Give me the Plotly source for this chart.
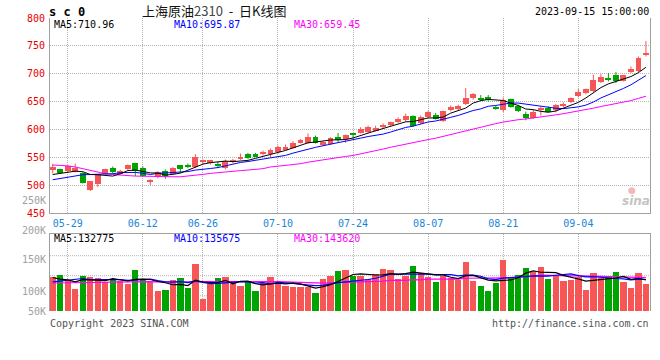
import plotly.graph_objects as go
import pandas as pd

# ---------------- data ----------------
holidays = ["2023-06-22", "2023-06-23"]
dates = [d.strftime("%m-%d") for d in pd.bdate_range("2023-05-25", "2023-09-15")
         if d.strftime("%Y-%m-%d") not in holidays]

tick_labels = ["05-29", "06-12", "06-26", "07-10", "07-24", "08-07", "08-21", "09-04"]
price_ticks = [800, 750, 700, 650, 600, 550, 500, 450]

opens = [526.8, 528.6, 525.0, 524.4, 521.4, 491.7, 502.4, 520.8, 531.6, 520.8,
         529.8, 539.3, 530.4, 506.5, 514.3, 526.2, 520.8, 535.7, 535.1, 532.7,
         542.3, 539.9, 538.1, 531.0, 541.1, 547.6, 557.1, 555.4, 555.4, 555.4,
         559.5, 564.3, 567.3, 576.8, 576.8, 586.9, 572.0, 575.0, 587.5, 583.3,
         591.1, 594.0, 595.8, 598.2, 604.8, 607.7, 614.3, 617.3, 625.0, 611.3,
         622.0, 626.8, 614.9, 635.7, 636.3, 646.4, 656.0, 656.6, 657.8, 641.1,
         634.5, 654.8, 641.7, 628.6, 620.8, 636.3, 638.7, 635.7, 643.5, 648.8,
         659.5, 664.9, 668.5, 685.1, 692.3, 698.2, 687.5, 702.4, 705.4, 733.9]
highs = [538.7, 529.8, 535.7, 539.3, 523.8, 507.7, 520.3, 529.8, 533.9, 528.0,
         537.5, 540.5, 533.9, 511.3, 525.6, 528.6, 532.7, 536.3, 539.3, 556.0,
         546.4, 545.8, 542.3, 546.4, 547.6, 557.1, 558.3, 558.3, 562.5, 566.1,
         571.4, 573.2, 579.2, 583.3, 592.9, 589.3, 579.2, 586.3, 594.0, 591.1,
         593.5, 604.2, 607.1, 607.1, 611.3, 614.3, 622.0, 628.6, 625.6, 625.0,
         633.9, 629.8, 633.9, 642.9, 644.7, 674.4, 665.5, 661.9, 661.9, 642.9,
         657.2, 655.4, 644.7, 632.2, 635.7, 641.7, 641.7, 645.9, 648.8, 657.8,
         672.6, 673.8, 698.2, 699.4, 701.2, 703.0, 698.2, 713.1, 731.0, 758.9]
lows = [521.4, 520.8, 522.6, 523.2, 503.6, 489.9, 497.0, 519.7, 521.4, 519.7,
        527.4, 516.7, 515.5, 500.6, 512.5, 511.9, 519.7, 522.6, 531.0, 531.0,
        538.1, 537.5, 531.0, 528.6, 539.9, 545.8, 547.6, 550.6, 553.6, 550.6,
        557.1, 563.1, 566.1, 575.0, 575.0, 575.0, 570.8, 573.2, 577.4, 576.2,
        584.5, 592.9, 594.0, 596.4, 602.4, 606.0, 611.9, 614.3, 604.8, 610.1,
        620.2, 617.9, 613.7, 632.7, 634.5, 644.1, 653.6, 651.2, 650.0, 635.7,
        631.6, 639.3, 631.6, 616.7, 619.0, 625.0, 631.0, 631.0, 640.5, 647.6,
        657.8, 663.1, 667.3, 683.3, 686.3, 683.3, 686.3, 701.2, 703.0, 731.0]
closes = [532.7, 522.0, 533.9, 530.4, 504.2, 507.1, 519.7, 528.6, 523.8, 525.0,
          535.7, 525.0, 517.3, 508.9, 524.4, 516.7, 531.6, 528.6, 534.5, 551.8,
          544.1, 544.7, 534.5, 542.9, 546.4, 551.8, 548.8, 552.4, 559.5, 563.7,
          569.0, 568.5, 575.6, 581.0, 587.5, 576.2, 577.4, 585.1, 582.1, 589.9,
          590.5, 601.8, 604.2, 603.6, 608.9, 613.1, 619.6, 624.4, 606.0, 623.2,
          631.6, 619.0, 632.7, 641.1, 642.9, 657.2, 664.3, 653.6, 652.4, 638.1,
          652.4, 640.5, 632.7, 620.8, 632.2, 637.5, 632.2, 644.1, 644.7, 656.0,
          666.7, 672.0, 688.1, 693.5, 689.3, 686.3, 697.0, 708.9, 729.2, 737.5]

# volume (thousands)
volumes = [116.8, 120.1, 108.3, 92.6, 118.1, 115.5, 114.2, 107.0, 111.6, 108.3,
           102.4, 129.9, 110.3, 107.0, 88.7, 90.6, 110.3, 114.2, 94.6, 141.7,
           73.0, 105.0, 114.2, 116.2, 107.0, 98.5, 105.7, 88.7, 105.0, 116.2,
           105.7, 99.1, 97.1, 97.1, 95.9, 84.8, 112.2, 118.2, 128.0, 129.9,
           118.8, 118.8, 112.3, 122.1, 131.9, 129.9, 112.3, 118.8, 137.8, 123.4,
           116.2, 106.4, 118.8, 114.9, 110.3, 145.6, 108.3, 98.5, 88.7, 104.4,
           148.3, 113.6, 120.1, 133.9, 125.4, 135.8, 112.3, 116.9, 108.3, 110.3,
           115.5, 90.7, 124.1, 113.6, 118.2, 126.0, 106.4, 95.3, 124.1, 102.4]

# moving-average values before a full window exists
ma5_head = [519.5, 521.5, 524.0, 525.5]
ma10_head = [510.1, 512.5, 514.9, 517.6, 519.1, 519.5, 520.0, 520.3, 520.9]
ma30_head = [536.5, 536.3, 535.0, 533.0, 530.0, 527.0, 523.0, 521.0, 519.5, 518.5,
             517.0, 516.7, 516.5, 516.0, 515.5, 515.5, 515.5, 515.5, 516.5, 518.0,
             519.7, 521.5, 523.0, 524.5, 525.6, 526.5, 527.5, 528.6, 530.0]
vma5_head = [115.5, 112.3, 111.0, 107.0]
vma10_head = [107.0, 108.3, 110.3, 111.6, 113.6, 111.6, 111.6, 110.3, 110.3]
vma30_head = [104.8, 105.0, 105.3, 105.6, 106.5, 107.0, 107.3, 107.5, 107.7, 107.8,
              107.8, 107.8, 107.7, 107.3, 107.0, 106.8, 106.6, 106.5, 106.6, 107.0,
              107.3, 107.5, 107.5, 107.4, 107.3, 107.3, 107.3, 107.4, 107.5]

vol_axis_labels = ["200K", "150K", "100K", "50K"]
vol_axis_label_y = [230, 259, 291, 311]   # pixel rows of the labels


def moving_avg(vals, n, head):
    out = []
    for i in range(len(vals)):
        if i >= n - 1:
            out.append(sum(vals[i - n + 1:i + 1]) / n)
        else:
            out.append(head[i])
    return out


ma5 = moving_avg(closes, 5, ma5_head)
ma10 = moving_avg(closes, 10, ma10_head)
ma30 = moving_avg(closes, 30, ma30_head)
vma5 = moving_avg(volumes, 5, vma5_head)
vma10 = moving_avg(volumes, 10, vma10_head)
vma30 = moving_avg(volumes, 30, vma30_head)

# ---------------- style ----------------
RED = "#f65656"
GREEN = "#00a400"
GRID = "#b4b4b4"
FRAME = "#a0a0a0"
MONO = "DejaVu Sans Mono"
W, H = 660, 360
ML, MR, MT, MB = 50, 10, 18, 49
PW, PH = W - ML - MR, H - MT - MB
PB = H - MB  # bottom pixel row of plotting area

up = [c >= o for o, c in zip(opens, closes)]
cols = [RED if u else GREEN for u in up]

fig = go.Figure()

# candle bodies (first, so the category order follows the dates)
fig.add_trace(go.Bar(x=dates, y=[max(abs(c - o), 1.8) for o, c in zip(opens, closes)],
                     base=[min(o, c) for o, c in zip(opens, closes)],
                     marker=dict(color=cols, line=dict(width=0)), width=0.78,
                     showlegend=False, xaxis="x", yaxis="y"))

# wicks
for flag, col in ((True, RED), (False, GREEN)):
    xs, ys = [], []
    for d, h, l, u in zip(dates, highs, lows, up):
        if u == flag:
            xs += [d, d, None]
            ys += [l, h, None]
    fig.add_trace(go.Scatter(x=xs, y=ys, mode="lines", line=dict(color=col, width=1),
                             hoverinfo="skip", showlegend=False, xaxis="x", yaxis="y"))

for vals, col in ((ma30, "#ff00ff"), (ma10, "#0000ff"), (ma5, "#000000")):
    fig.add_trace(go.Scatter(x=dates, y=vals, mode="lines", line=dict(color=col, width=1),
                             hoverinfo="skip", showlegend=False, xaxis="x", yaxis="y"))

# volume
fig.add_trace(go.Bar(x=dates, y=volumes, marker=dict(color=cols, line=dict(width=0)),
                     width=0.84, showlegend=False, xaxis="x2", yaxis="y2"))
for vals, col in ((vma30, "#ff00ff"), (vma10, "#0000ff"), (vma5, "#000000")):
    fig.add_trace(go.Scatter(x=dates, y=vals, mode="lines", line=dict(color=col, width=1.2),
                             hoverinfo="skip", showlegend=False, xaxis="x2", yaxis="y2"))

price_dom = [(PB - 213.3) / PH, 1.0]
vol_dom = [0.0, (PB - 234.3) / PH]
xr = [-0.36, len(dates) - 1 + 0.54]


def ann(text, x, y, xanchor, color, size, family=MONO):
    return dict(text=text, x=(x - ML) / PW, y=(PB - y) / PH, xref="paper", yref="paper",
                xanchor=xanchor, yanchor="middle", showarrow=False, borderpad=0,
                font=dict(family=family, size=size, color=color))


annotations = [
    ann("<b>s c 0</b>", 48, 11.5, "left", "#000000", 12),
    ann("上海原油<span style='color:#444'>2310</span>\u00a0\u00a0-\u00a0\u00a0日K线图",
        214, 10, "center", "#111111", 13, "Noto Sans CJK SC"),
    ann("2023-09-15 15:00:00", 650, 11.5, "right", "#000000", 10),
    ann("MA5:710.96", 53, 24.5, "left", "#000000", 10),
    ann("MA10:695.87", 173, 24.5, "left", "#0000ff", 10),
    ann("MA30:659.45", 293, 24.5, "left", "#ff00ff", 10),
    ann("MA5:132775", 53, 238.5, "left", "#000000", 10),
    ann("MA10:135675", 173, 238.5, "left", "#0000ff", 10),
    ann("MA30:143620", 293, 238.5, "left", "#ff00ff", 10),
    ann("Copyright 2023 SINA.COM", 49, 323.5, "left", "#555555", 10),
    ann("http://finance.sina.com.cn", 650, 323.5, "right", "#555555", 10),
    ann("250K", 47, 200.5, "right", "#a0a0a0", 10),
    ann("<b><i>sina</i></b>", 636, 201, "center", "#c4c4c4", 12, "DejaVu Sans"),
    ann("●", 632, 190, "center", "#f2b8b8", 9, "DejaVu Sans"),
]
for lab, yy in zip(vol_axis_labels, vol_axis_label_y):
    annotations.append(ann(lab, 47, yy, "right", "#a0a0a0", 10))

shapes = []
for frac in (0.721, 0.460, 0.199):
    shapes.append(dict(type="line", xref="x2 domain", yref="y2 domain", x0=0, x1=1,
                       y0=frac, y1=frac, line=dict(color=GRID, width=1, dash="1px,1px"),
                       layer="below"))

fig.update_layout(
    width=W, height=H, margin=dict(l=ML, r=MR, t=MT, b=MB, pad=0),
    paper_bgcolor="white", plot_bgcolor="white", showlegend=False,
    bargap=0, annotations=annotations, shapes=shapes,
    xaxis=dict(domain=[0, 1], anchor="y", type="category", range=xr,
               categoryorder="array", categoryarray=dates,
               tickvals=tick_labels, ticktext=tick_labels,
               showgrid=True, gridcolor=GRID, griddash="1px,1px", gridwidth=1,
               showline=True, linecolor=FRAME, linewidth=1,
               ticks="outside", ticklen=1, tickcolor="rgba(0,0,0,0)",
               tickfont=dict(family=MONO, size=10, color="#1a86d6"), fixedrange=True),
    yaxis=dict(domain=price_dom, anchor="x", range=[450, 800],
               tickvals=price_ticks, ticktext=[str(v) for v in price_ticks],
               showgrid=True, gridcolor=GRID, griddash="1px,1px", gridwidth=1,
               showline=True, mirror=True, linecolor=FRAME, linewidth=1, zeroline=False,
               ticks="outside", ticklen=2, tickcolor="rgba(0,0,0,0)",
               tickfont=dict(family=MONO, size=10, color="#e80000"), fixedrange=True),
    xaxis2=dict(domain=[0, 1], anchor="y2", type="category", range=xr,
                categoryorder="array", categoryarray=dates,
                tickvals=tick_labels, showticklabels=False, side="top",
                showgrid=True, gridcolor=GRID, griddash="1px,1px", gridwidth=1,
                showline=True, linecolor=FRAME, linewidth=1, ticks="", fixedrange=True),
    yaxis2=dict(domain=vol_dom, anchor="x2", range=[50, 200], showgrid=False,
                showticklabels=False, showline=True, mirror=True, linecolor=FRAME,
                linewidth=1, zeroline=False, ticks="", fixedrange=True),
)

fig.write_html("out.html", config={"displayModeBar": False},
               post_script="document.body.style.margin='0';document.body.style.overflow='hidden';")
